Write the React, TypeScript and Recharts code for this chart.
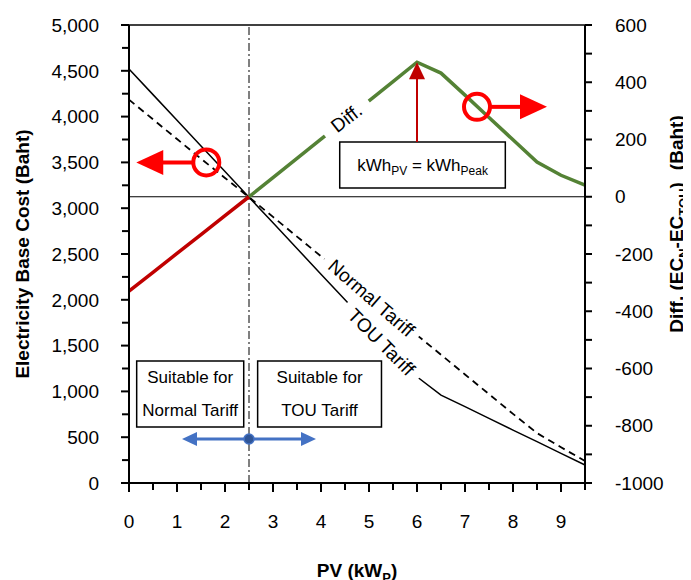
import React from "react";
import {
  ComposedChart,
  Line,
  XAxis,
  YAxis,
  ReferenceLine,
  ReferenceDot,
  ReferenceArea,
} from "recharts";

// PV size (kWp)
const pv = [0, 0.5, 1, 1.5, 2, 2.5, 3, 3.5, 4, 4.5, 5, 5.5, 6, 6.5, 7, 7.5, 8, 8.5, 9, 9.5];
// electricity base cost (Baht)
const touTariff = [4520, 4240, 3960, 3680, 3400, 3120, 2840, 2560, 2280, 2000, 1720, 1440, 1160, 960, 833, 705, 578, 451, 323, 196];
const normalTariff = [4185, 3970, 3755, 3540, 3330, 3120, 2905, 2690, 2475, 2260, 2045, 1830, 1615, 1400, 1185, 970, 755, 545, 390, 240];
// diff EC_N - EC_TOU, split where it crosses zero
const diffNeg = [-330, -264, -198, -132, -66, 0, null, null, null, null, null, null, null, null, null, null, null, null, null, null];
const diffPos = [null, null, null, null, null, 0, 67, 134, 201, 268, 335, 402, 470, 432, 355, 277, 199, 121, 75, 41];

const xTicks = [0, 0.5, 1, 1.5, 2, 2.5, 3, 3.5, 4, 4.5, 5, 5.5, 6, 6.5, 7, 7.5, 8, 8.5, 9, 9.5];
const leftTicks = [0, 250, 500, 750, 1000, 1250, 1500, 1750, 2000, 2250, 2500, 2750, 3000, 3250, 3500, 3750, 4000, 4250, 4500, 4750, 5000];
const rightTicks = [-1000, -900, -800, -700, -600, -500, -400, -300, -200, -100, 0, 100, 200, 300, 400, 500, 600];

const data = pv.map((x, i) => ({
  pv: x,
  tou: touTariff[i],
  normal: normalTariff[i],
  diffNeg: diffNeg[i],
  diffPos: diffPos[i],
}));

const W = 683;
const H = 572;
const FONT = "'Liberation Sans', Arial, sans-serif";
const fmt = (v: number) => String(v).replace(/\B(?=(\d{3})+(?!\d))/g, ",");

const LeftTick = ({ x, y, payload }: any) => {
  const v = payload.value;
  const major = v % 500 === 0;
  const ax = x + 30;
  return (
    <g>
      <line x1={ax} x2={ax - (major ? 8 : 7)} y1={y} y2={y} stroke="#000" strokeWidth={2} />
      {major && (
        <text x={x} y={y} dy="0.355em" textAnchor="end" fontSize={19} fontFamily={FONT} fill="#000">
          {fmt(v)}
        </text>
      )}
    </g>
  );
};

const RightTick = ({ x, y, payload }: any) => {
  const v = payload.value;
  const major = v % 200 === 0;
  const ax = x - 30;
  return (
    <g>
      <line x1={ax} x2={ax + 7} y1={y} y2={y} stroke="#000" strokeWidth={2} />
      {major && (
        <text x={x} y={y} dy="0.355em" textAnchor="start" fontSize={19} fontFamily={FONT} fill="#000">
          {v}
        </text>
      )}
    </g>
  );
};

const BottomTick = ({ x, y, payload }: any) => {
  const v = payload.value;
  const major = Number.isInteger(v);
  const ay = y - 32;
  return (
    <g>
      <line x1={x} x2={x} y1={ay} y2={ay + (major ? 9 : 7)} stroke="#000" strokeWidth={2} />
      {major && (
        <text x={x} y={y} dy="0.71em" textAnchor="middle" fontSize={19} fontFamily={FONT} fill="#000">
          {v}
        </text>
      )}
    </g>
  );
};

// axis titles, placed in svg coordinates
const LeftTitle = () => {
  const x = 14;
  const y = 246;
  return (
    <text x={x} y={y} dy="0.35em" transform={`rotate(-90, ${x}, ${y})`} textAnchor="middle"
      fontSize={19} fontWeight="bold" fontFamily={FONT} fill="#000">
      Electricity Base Cost (Baht)
    </text>
  );
};

const RightTitle = () => {
  const x = W - 15;
  const y = 216;
  return (
    <text x={x} y={y} dy="0.35em" transform={`rotate(-90, ${x}, ${y})`} textAnchor="middle"
      fontSize={19} fontWeight="bold" fontFamily={FONT} fill="#000">
      Diff. (EC
      <tspan fontSize={13} dy={5}>N</tspan>
      <tspan dy={-5}>-EC</tspan>
      <tspan fontSize={13} dy={5}>TOU</tspan>
      <tspan dy={-5}>)</tspan>
      <tspan dx={12}>(Baht)</tspan>
    </text>
  );
};

const BottomTitle = () => (
  <text x={349} y={H - 3} textAnchor="middle" fontSize={19} fontWeight="bold" fontFamily={FONT} fill="#000">
    PV (kW
    <tspan fontSize={13} dy={5}>P</tspan>
    <tspan dy={-5}>)</tspan>
  </text>
);

const lineLabel = (text: string, angle: number, w: number) => ({ cx, cy }: any) => (
  <g transform={`translate(${cx},${cy}) rotate(${angle})`}>
    <rect x={-w / 2} y={-11} width={w} height={22} fill="#fff" />
    <text textAnchor="middle" dy="0.35em" fontSize={19} fontFamily={FONT} fill="#000">
      {text}
    </text>
  </g>
);

const circleArrow = (dir: number) => ({ cx, cy }: any) => (
  <g>
    <circle cx={cx} cy={cy} r={13} fill="none" stroke="#FF0000" strokeWidth={4} />
    <line x1={cx + dir * 13} x2={cx + dir * 45} y1={cy} y2={cy} stroke="#FF0000" strokeWidth={4} />
    <polygon
      points={`${cx + dir * 70},${cy} ${cx + dir * 43},${cy - 12.5} ${cx + dir * 43},${cy + 12.5}`}
      fill="#FF0000"
    />
  </g>
);

const upHead = ({ cx, cy }: any) => (
  <polygon points={`${cx},${cy} ${cx - 8},${cy + 17} ${cx + 8},${cy + 17}`} fill="#C00000" />
);

const blueArrow = ({ cx, cy }: any) => (
  <g>
    <line x1={cx - 55} x2={cx + 55} y1={cy} y2={cy} stroke="#4472C4" strokeWidth={3} />
    <polygon points={`${cx - 67},${cy} ${cx - 52},${cy - 7} ${cx - 52},${cy + 7}`} fill="#4472C4" />
    <polygon points={`${cx + 67},${cy} ${cx + 52},${cy - 7} ${cx + 52},${cy + 7}`} fill="#4472C4" />
    <circle cx={cx} cy={cy} r={5} fill="#2F5597" stroke="#4472C4" strokeWidth={1.5} />
  </g>
);

const boxText = (lines: string[]) => ({ viewBox }: any) => {
  const cx = viewBox.x + viewBox.width / 2;
  const cy = viewBox.y + viewBox.height / 2;
  return (
    <g>
      {lines.map((t, i) => (
        <text key={i} x={cx} y={cy + (i - (lines.length - 1) / 2) * 33} dy="0.35em" textAnchor="middle"
          fontSize={17} fontFamily={FONT} fill="#000">
          {t}
        </text>
      ))}
    </g>
  );
};

const kwhText = ({ viewBox }: any) => {
  const cx = viewBox.x + viewBox.width / 2;
  const cy = viewBox.y + viewBox.height / 2;
  return (
    <text x={cx} y={cy + 6} textAnchor="middle" fontSize={17} fontFamily={FONT} fill="#000">
      kWh
      <tspan fontSize={12} dy={4}>PV</tspan>
      <tspan dy={-4}> = kWh</tspan>
      <tspan fontSize={12} dy={4}>Peak</tspan>
    </text>
  );
};

export default function App() {
  return (
    <>
      {/* the chart fills the window down to the bottom edge, keep scrollbars away */}
      <style>{"html, body { overflow: hidden; }"}</style>
      <ComposedChart width={W} height={H} data={data} margin={{ top: 17, right: 16, bottom: 27, left: 21 }}>
        <XAxis
          dataKey="pv"
          type="number"
          domain={[0, 9.5]}
          ticks={xTicks}
          interval={0}
          height={70}
          tickSize={0}
          tickMargin={32}
          tickLine={false}
          tick={BottomTick}
          axisLine={{ stroke: "#000", strokeWidth: 2 }}
          label={BottomTitle}
        />
        <YAxis
          yAxisId="left"
          domain={[0, 5000]}
          ticks={leftTicks}
          interval={0}
          width={100}
          tickSize={0}
          tickMargin={30}
          tickLine={false}
          tick={LeftTick}
          axisLine={{ stroke: "#000", strokeWidth: 2 }}
          label={LeftTitle}
        />
        <YAxis
          yAxisId="right"
          orientation="right"
          domain={[-1000, 600]}
          ticks={rightTicks}
          interval={0}
          width={90}
          tickSize={0}
          tickMargin={30}
          tickLine={false}
          tick={RightTick}
          axisLine={{ stroke: "#000", strokeWidth: 2 }}
          label={RightTitle}
        />

        <ReferenceLine yAxisId="left" y={5000} stroke="#000" strokeWidth={1.5} />
        <ReferenceLine yAxisId="right" y={0} stroke="#000" strokeWidth={1.2} />
        <ReferenceLine yAxisId="left" x={2.5} stroke="#000" strokeWidth={1} strokeDasharray="8 3 2 3" />

        <Line yAxisId="left" dataKey="tou" type="linear" stroke="#000" strokeWidth={1.5} dot={false} isAnimationActive={false} />
        <Line yAxisId="left" dataKey="normal" type="linear" stroke="#000" strokeWidth={1.8} strokeDasharray="7 5" dot={false} isAnimationActive={false} />
        <Line yAxisId="right" dataKey="diffNeg" type="linear" stroke="#C00000" strokeWidth={3.5} dot={false} isAnimationActive={false} />
        <Line yAxisId="right" dataKey="diffPos" type="linear" stroke="#548235" strokeWidth={3.5} dot={false} isAnimationActive={false} />

        <ReferenceDot yAxisId="right" x={4.53} y={275} shape={lineLabel("Diff.", -38, 56)} />
        <ReferenceDot yAxisId="left" x={5.05} y={2020} shape={lineLabel("Normal Tariff", 41, 122)} />
        <ReferenceDot yAxisId="left" x={5.26} y={1539} shape={lineLabel("TOU Tariff", 45, 104)} />

        <ReferenceDot yAxisId="left" x={1.61} y={3500} shape={circleArrow(-1)} />
        <ReferenceDot yAxisId="right" x={7.25} y={314} shape={circleArrow(1)} />

        <ReferenceArea yAxisId="right" x1={4.39} x2={7.84} y1={31} y2={191} fill="#fff" fillOpacity={1}
          stroke="#000" strokeWidth={1.5} label={kwhText} />
        <ReferenceLine yAxisId="right" segment={[{ x: 6, y: 191 }, { x: 6, y: 420 }]} stroke="#C00000" strokeWidth={2} />
        <ReferenceDot yAxisId="right" x={6} y={470} shape={upHead} />

        <ReferenceArea yAxisId="left" x1={0.16} x2={2.39} y1={611} y2={1332} fill="#fff" fillOpacity={1}
          stroke="#000" strokeWidth={1.5} label={boxText(["Suitable for", "Normal Tariff"])} />
        <ReferenceArea yAxisId="left" x1={2.68} x2={5.26} y1={611} y2={1332} fill="#fff" fillOpacity={1}
          stroke="#000" strokeWidth={1.5} label={boxText(["Suitable for", "TOU Tariff"])} />
        <ReferenceDot yAxisId="left" x={2.5} y={480} shape={blueArrow} />
      </ComposedChart>
    </>
  );
}
